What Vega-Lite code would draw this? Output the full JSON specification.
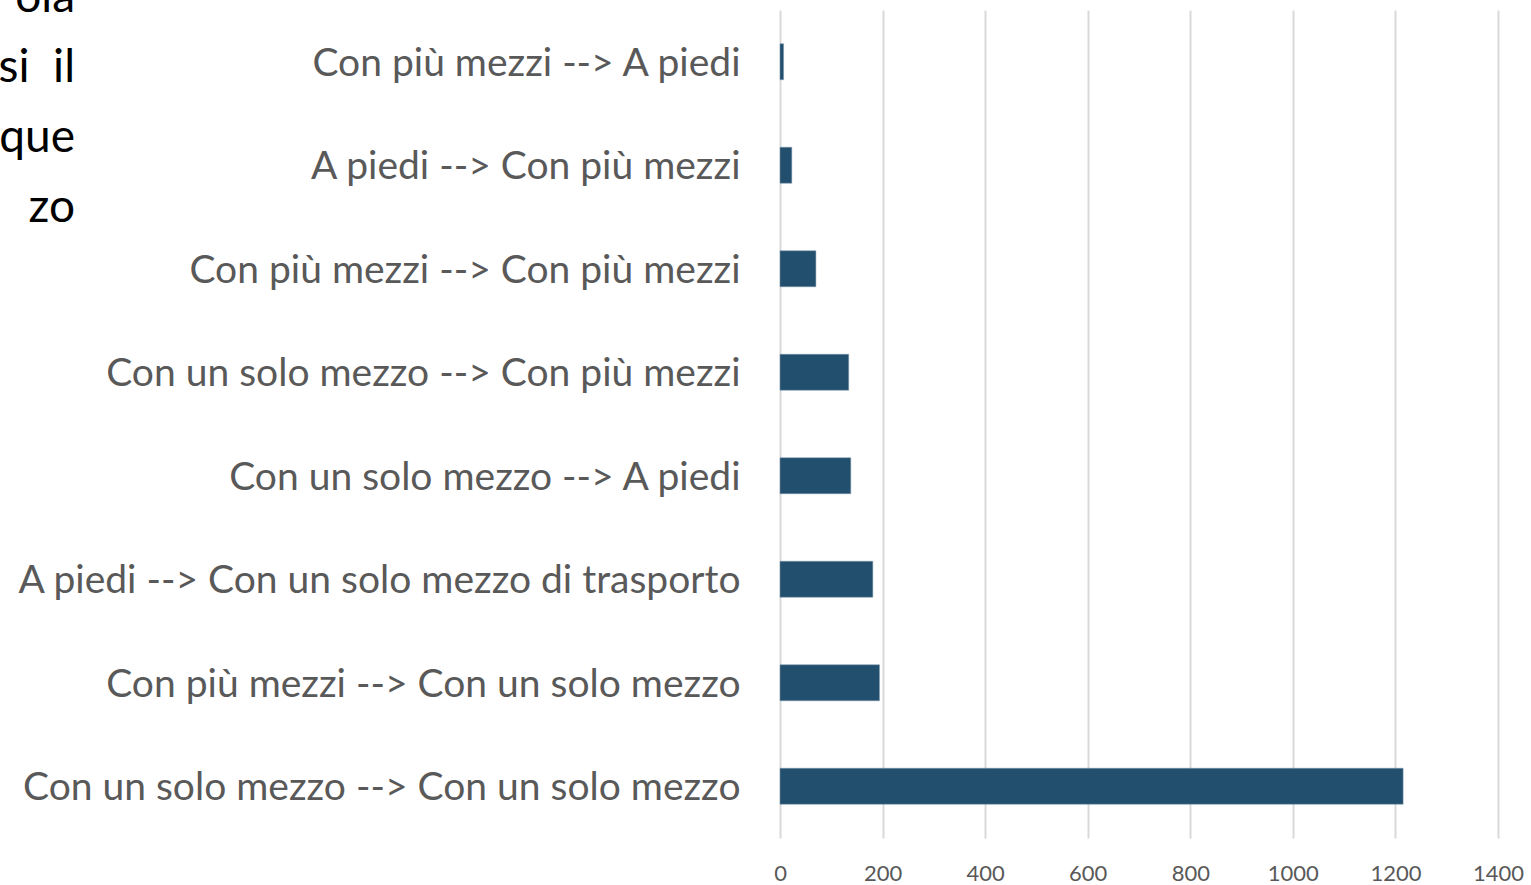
{
  "$schema": "https://vega.github.io/schema/vega-lite/v6.json",
  "autosize": {"type": "none"},
  "padding": {"left": 780, "top": 10, "right": 33, "bottom": 47},
  "width": 718,
  "height": 828,
  "background": "white",
  "title": {
    "text": ["ola", "si\u00a0\u00a0il", "que", "zo"],
    "anchor": "start",
    "frame": "group",
    "align": "right",
    "baseline": "top",
    "dx": -705,
    "dy": 182,
    "offset": -40,
    "fontSize": 46,
    "lineHeight": 70,
    "font": "Lato",
    "fontWeight": 400,
    "color": "#000000"
  },
  "data": {
    "values": [
      {"categoria": "Con più mezzi --> A piedi", "valore": 7},
      {"categoria": "A piedi --> Con più mezzi", "valore": 23},
      {"categoria": "Con più mezzi --> Con più mezzi", "valore": 70},
      {"categoria": "Con un solo mezzo --> Con più mezzi", "valore": 134},
      {"categoria": "Con un solo mezzo --> A piedi", "valore": 138},
      {"categoria": "A piedi --> Con un solo mezzo di trasporto", "valore": 181},
      {"categoria": "Con più mezzi --> Con un solo mezzo", "valore": 194},
      {"categoria": "Con un solo mezzo --> Con un solo mezzo", "valore": 1215}
    ]
  },
  "mark": {"type": "bar", "color": "#234f6e", "stroke": "#7f9bb0", "strokeWidth": 0.5},
  "encoding": {
    "y": {
      "field": "categoria",
      "type": "nominal",
      "sort": null,
      "scale": {"paddingInner": 0.652, "paddingOuter": 0.326},
      "axis": {
        "title": null,
        "domain": false,
        "ticks": false,
        "grid": false,
        "labelFont": "Lato",
        "labelFontSize": 39,
        "labelColor": "#595959",
        "labelPadding": 40,
        "labelOffset": 2,
        "labelLimit": 0
      }
    },
    "x": {
      "field": "valore",
      "type": "quantitative",
      "scale": {"domain": [0, 1400], "nice": false},
      "axis": {
        "title": null,
        "values": [0, 200, 400, 600, 800, 1000, 1200, 1400],
        "format": "d",
        "domain": false,
        "ticks": false,
        "grid": true,
        "gridColor": "#d9d9d9",
        "gridWidth": 2,
        "labelFont": "Lato",
        "labelFontSize": 22,
        "labelColor": "#595959",
        "labelPadding": 25,
        "labelFlush": false
      }
    }
  },
  "config": {"view": {"stroke": null}, "title": {"fontWeight": 400}}
}
